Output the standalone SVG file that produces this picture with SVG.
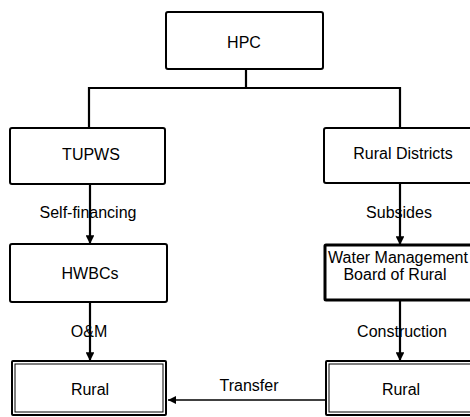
<svg xmlns="http://www.w3.org/2000/svg" width="470" height="417" viewBox="0 0 470 417">
<style>
.box{fill:#fff;stroke:#000;stroke-width:2}
.thick{stroke-width:3}
.inner{fill:none;stroke:#000;stroke-width:1}
.t{font-family:"Liberation Sans",Arial,sans-serif;font-size:16px;fill:#000;text-anchor:middle}
.ln{fill:none;stroke:#000;stroke-width:2.2}
.thin{fill:none;stroke:#000;stroke-width:1.4}
</style>
<defs>
<marker id="ah" viewBox="0 0 10 10" refX="10" refY="5" markerWidth="4" markerHeight="4" orient="auto" markerUnits="strokeWidth">
<path d="M0,0 L10,5 L0,10 Z" fill="#000"/>
</marker>
<marker id="ah2" viewBox="0 0 10 10" refX="10" refY="5" markerWidth="6" markerHeight="6" orient="auto" markerUnits="strokeWidth">
<path d="M0,0 L10,5 L0,10 Z" fill="#000"/>
</marker>
</defs>
<rect width="470" height="417" fill="#fff"/>
<g id="hpc">
<rect class="box" x="166" y="12" width="157" height="57" rx="2"/>
<text class="t" x="244" y="48">HPC</text>
</g>
<g id="tupws">
<rect class="box" x="10" y="128" width="155" height="56" rx="2"/>
<text class="t" x="91" y="160">TUPWS</text>
</g>
<g id="rural-districts">
<rect class="box" x="324" y="128" width="160" height="55" rx="2"/>
<text class="t" x="403" y="159">Rural Districts</text>
</g>
<g id="hwbcs">
<rect class="box" x="10" y="244" width="157" height="58" rx="2"/>
<text class="t" x="90" y="279">HWBCs</text>
</g>
<g id="water-board">
<rect class="box thick" x="325" y="245" width="160" height="55" rx="1"/>
<text class="t" x="398" y="263">Water Management</text>
<text class="t" x="395" y="280">Board of Rural</text>
</g>
<g id="rural-left">
<rect class="box" x="12" y="361" width="154" height="54" rx="1"/>
<rect class="inner" x="15" y="364" width="148" height="48"/>
<text class="t" x="90" y="395">Rural</text>
</g>
<g id="rural-right">
<rect class="box" x="326" y="361" width="160" height="54" rx="1"/>
<rect class="inner" x="329" y="364" width="154" height="48"/>
<text class="t" x="401" y="395">Rural</text>
</g>
<g id="connectors">
<text class="t" x="88" y="218">Self-financing</text>
<text class="t" x="399" y="218">Subsides</text>
<text class="t" x="89" y="337">O&amp;M</text>
<text class="t" x="402" y="337">Construction</text>
<text class="t" x="249" y="391">Transfer</text>
<path class="ln" d="M246,69 V88 M89,88 H400 M89,87 V128 M400,87 V128"/>
<path class="ln" d="M90,184 V244" marker-end="url(#ah)"/>
<path class="ln" d="M400,183 V245" marker-end="url(#ah)"/>
<path class="ln" d="M90,302 V361" marker-end="url(#ah)"/>
<path class="ln" d="M400,300 V361" marker-end="url(#ah)"/>
<path class="thin" d="M325,400 H168" marker-end="url(#ah2)"/>
</g>
</svg>
